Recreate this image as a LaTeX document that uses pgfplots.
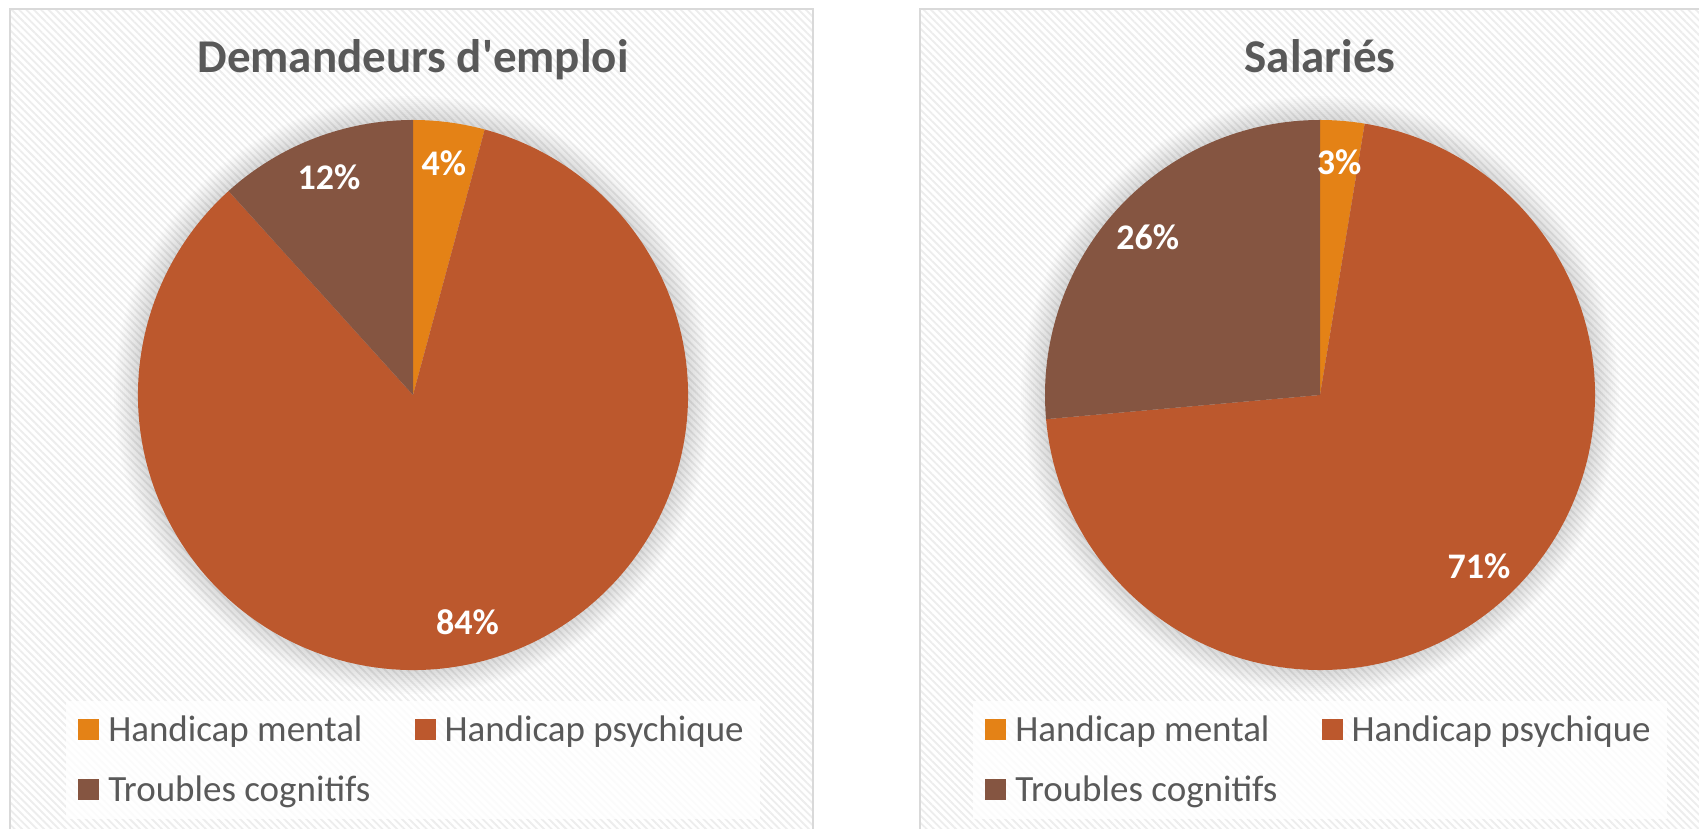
\documentclass[border=0pt]{standalone}
\usepackage{fontspec}
\setmainfont{Carlito}[Ligatures=TeXOff]
\usepackage{pgfplots}
\pgfplotsset{compat=1.18}
\usepackage{pgfplotstable}
\usetikzlibrary{patterns.meta}

\definecolor{cMental}{RGB}{228,130,22}
\definecolor{cPsy}{RGB}{188,88,45}
\definecolor{cTrou}{RGB}{133,85,65}
\definecolor{txtgray}{RGB}{89,89,89}
\definecolor{framegray}{RGB}{217,217,217}

% shares (percent): mental, psychique, troubles cognitifs
\pgfplotstableread{
value
4.2
84.1
11.7
}\demandeurs
\pgfplotstableread{
value
2.6
71.0
26.4
}\salaries

% slice angles, clockwise from 12 o'clock
\newcommand{\getshares}[1]{%
  \pgfplotstablegetelem{0}{value}\of#1\xdef\va{\pgfplotsretval}%
  \pgfplotstablegetelem{1}{value}\of#1\xdef\vb{\pgfplotsretval}%
  \pgfplotstablegetelem{2}{value}\of#1\xdef\vc{\pgfplotsretval}%
  \pgfmathsetmacro{\tot}{\va+\vb+\vc}%
  \pgfmathsetmacro{\aA}{90}%
  \pgfmathsetmacro{\aB}{90-\va/\tot*360}%
  \pgfmathsetmacro{\aC}{90-(\va+\vb)/\tot*360}%
  \pgfmathsetmacro{\aD}{-270}%
}
% one slice: start angle, end angle, colour (radius 275 units = 137.5pt)
\newcommand{\slice}[3]{%
  \fill[#3] (axis cs:0,0) -- (axis cs:{275*cos(#1)},{275*sin(#1)})
    arc[start angle=#1, end angle=#2, radius=137.5pt] -- cycle;}
\newcommand{\slicelabel}[3]{%
  \node[text=white, font=\bfseries\fontsize{18}{18}\selectfont]
    at (axis cs:{0.85*275*cos((#1+#2)/2)},{0.85*275*sin((#1+#2)/2)})
    {\pgfmathprintnumber[fixed,precision=0,assume math mode=true]{#3}\%};}

\pgfplotsset{
  sq legend/.style={legend image code/.code={%
      \fill[##1, fill opacity=1] (0pt,-5pt) rectangle (10.5pt,5.5pt);}},
  piepanel/.style={
    anchor=south west, x=0.5pt, y=0.5pt,
    xmin=-400, xmax=400, ymin=-430, ymax=380,
    hide axis, clip=false,
    every axis title shift=0pt,
    title style={at={(0.5,0.9284)}, anchor=base, text=txtgray,
      font=\bfseries\fontsize{23.5}{28}\selectfont},
    legend columns=2, legend cell align=left,
    legend style={at={(0.5,0.0802)}, anchor=center, draw=none,
      fill=white, fill opacity=0.8, text opacity=1, text=txtgray,
      font=\fontsize{18.5}{18.5}\selectfont,
      inner xsep=6pt, inner ysep=5pt, row sep=12pt,
      /tikz/every odd column/.append style={column sep=2.5pt},
      /tikz/every even column/.append style={column sep=20pt}},
  },
}

\begin{document}
\begin{tikzpicture}
\useasboundingbox (0,0) rectangle (849.5pt,414.5pt);
\clip (0,0) rectangle (849.5pt,414.5pt);

% chart panels
\foreach \xa/\xb in {5pt/406.5pt, 460pt/870pt}{
  \fill[white] (\xa,-10pt) rectangle (\xb,410pt);
  \fill[pattern={Lines[angle=-45,distance=2.6pt,line width=0.9pt]},
        pattern color=black!7] (\xa,-10pt) rectangle (\xb,410pt);
  \draw[framegray, line width=1pt] (\xa,-10pt) rectangle (\xb,410pt);
}
% soft shadow round the pies
\foreach \cx in {206.5pt, 660pt}{
  \foreach \k in {1,...,12}{
    \fill[black, opacity=0.013] (\cx,217pt) circle[radius=137.5pt+\k pt];
  }
}

\getshares{\demandeurs}
\begin{axis}[piepanel, at={(6.5pt,2pt)}, title={Demandeurs d'emploi}]
  \addlegendimage{sq legend, fill=cMental, draw=none}
  \addlegendentry{Handicap mental}
  \addlegendimage{sq legend, fill=cPsy, draw=none}
  \addlegendentry{Handicap psychique}
  \addlegendimage{sq legend, fill=cTrou, draw=none}
  \addlegendentry{Troubles cognitifs}
  \slice{\aA}{\aB}{cMental}
  \slice{\aB}{\aC}{cPsy}
  \slice{\aC}{\aD}{cTrou}
  \slicelabel{\aA}{\aB}{\va}
  \slicelabel{\aB}{\aC}{\vb}
  \slicelabel{\aC}{\aD}{\vc}
\end{axis}

\getshares{\salaries}
\begin{axis}[piepanel, at={(460pt,2pt)}, title={Salariés}]
  \addlegendimage{sq legend, fill=cMental, draw=none}
  \addlegendentry{Handicap mental}
  \addlegendimage{sq legend, fill=cPsy, draw=none}
  \addlegendentry{Handicap psychique}
  \addlegendimage{sq legend, fill=cTrou, draw=none}
  \addlegendentry{Troubles cognitifs}
  \slice{\aA}{\aB}{cMental}
  \slice{\aB}{\aC}{cPsy}
  \slice{\aC}{\aD}{cTrou}
  \slicelabel{\aA}{\aB}{\va}
  \slicelabel{\aB}{\aC}{\vb}
  \slicelabel{\aC}{\aD}{\vc}
\end{axis}
\end{tikzpicture}
\end{document}
